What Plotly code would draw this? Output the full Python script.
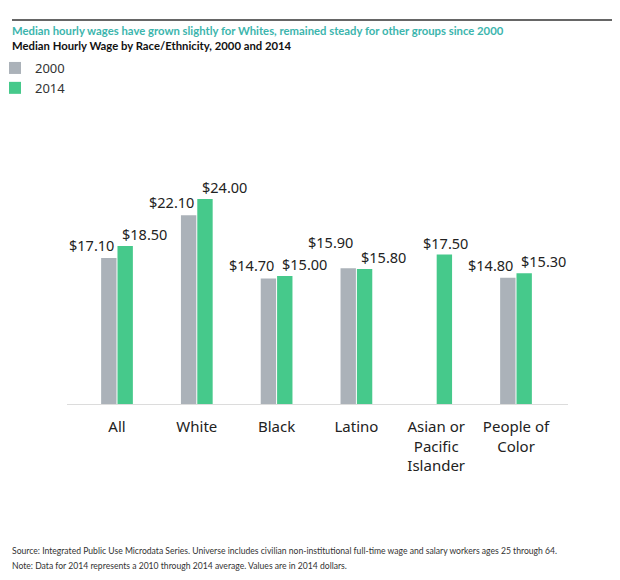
import plotly.graph_objects as go

categories = ["All", "White", "Black", "Latino", "Asian or<br>Pacific<br>Islander", "People of<br>Color"]
wages_2000 = [17.10, 22.10, 14.70, 15.90, None, 14.80]
wages_2014 = [18.50, 24.00, 15.00, 15.80, 17.50, 15.30]
series_names = ["2000", "2014"]

title_text = "Median hourly wages have grown slightly for Whites, remained steady for other groups since 2000"
subtitle_text = "Median Hourly Wage by Race/Ethnicity, 2000 and 2014"
source_text = ("Source: Integrated Public Use Microdata Series. Universe includes civilian non-institutional "
               "full-time wage and salary workers ages 25 through 64.")
note_text = "Note: Data for 2014 represents a 2010 through 2014 average. Values are in 2014 dollars."

# extra vertical lift (px) for value labels that would collide with a neighbour
label_lift = {("Latino", "2000"): 13}

GRAY = "#abb2b9"
GREEN = "#46c98b"
OFF = 8  # page body margin
W, H = 620 - OFF, 580 - OFF
L, R, T, B = 67 - OFF, 52, 182 - OFF, 176
PW, PH = W - L - R, H - T - B


def px(x):  # screen pixel -> paper x
    return (x - OFF - L) / PW


def py(y):  # screen pixel -> paper y
    return (H - B - (y - OFF)) / PH


def fmt(v):
    return f"${v:.2f}"


label_font = dict(family="Noto Sans", size=14.5, color="#222")

fig = go.Figure()
fig.add_trace(go.Bar(x=categories, y=wages_2000, name=series_names[0], marker_color=GRAY,
                     marker_line_width=0))
fig.add_trace(go.Bar(x=categories, y=wages_2014, name=series_names[1], marker_color=GREEN,
                     marker_line_width=0))

annotations = []
for c, v0, v1 in zip(categories, wages_2000, wages_2014):
    if v0 is not None:
        annotations.append(dict(x=c, y=v0, xref="x", yref="y", text=fmt(v0), showarrow=False,
                                xanchor="right", yanchor="bottom", xshift=-1,
                                yshift=1 + label_lift.get((c, series_names[0]), 0), font=label_font))
        annotations.append(dict(x=c, y=v1, xref="x", yref="y", text=fmt(v1), showarrow=False,
                                xanchor="left", yanchor="bottom", xshift=3,
                                yshift=label_lift.get((c, series_names[1]), 0), font=label_font))
    else:
        annotations.append(dict(x=c, y=v1, xref="x", yref="y", text=fmt(v1), showarrow=False,
                                xanchor="center", yanchor="bottom", xshift=9, yshift=0, font=label_font))

annotations += [
    dict(text="<b>" + title_text + "</b>", xref="paper", yref="paper", x=px(10), y=py(30),
         xanchor="left", yanchor="middle", showarrow=False,
         font=dict(family="Lato", size=11.3, color="#3cb5ad")),
    dict(text="<b>" + subtitle_text + "</b>", xref="paper", yref="paper", x=px(10), y=py(45),
         xanchor="left", yanchor="middle", showarrow=False,
         font=dict(family="Lato", size=11.3, color="#111")),
    dict(text=source_text, xref="paper", yref="paper", x=px(10), y=py(551),
         xanchor="left", yanchor="middle", showarrow=False,
         font=dict(family="Lato", size=8.6, color="#333")),
    dict(text=note_text, xref="paper", yref="paper", x=px(10), y=py(566),
         xanchor="left", yanchor="middle", showarrow=False,
         font=dict(family="Lato", size=8.6, color="#333")),
]

fig.update_layout(
    width=W, height=H,
    margin=dict(l=L, r=R, t=T, b=B, autoexpand=False),
    paper_bgcolor="white", plot_bgcolor="white",
    barmode="group", bargap=0.59, bargroupgap=0.06,
    font=dict(family="Noto Sans", color="#222"),
    showlegend=True,
    legend=dict(x=px(-5), y=py(53), xanchor="left", yanchor="top",
                font=dict(family="Noto Sans", size=13, color="#333"), itemwidth=30,
                tracegroupgap=0, bgcolor="rgba(0,0,0,0)"),
    xaxis=dict(showline=True, linecolor="#dcdcdc", linewidth=1, ticks="", showgrid=False,
               ticklabelstandoff=9, tickfont=dict(family="Noto Sans", size=15, color="#222")),
    yaxis=dict(range=[0, 26], visible=False, showgrid=False, zeroline=False),
    shapes=[dict(type="line", xref="paper", yref="paper", x0=px(12), x1=px(620), y0=py(20), y1=py(20),
                 line=dict(color="#333", width=1.5))],
    annotations=annotations,
)

fig.write_html("out.html")
